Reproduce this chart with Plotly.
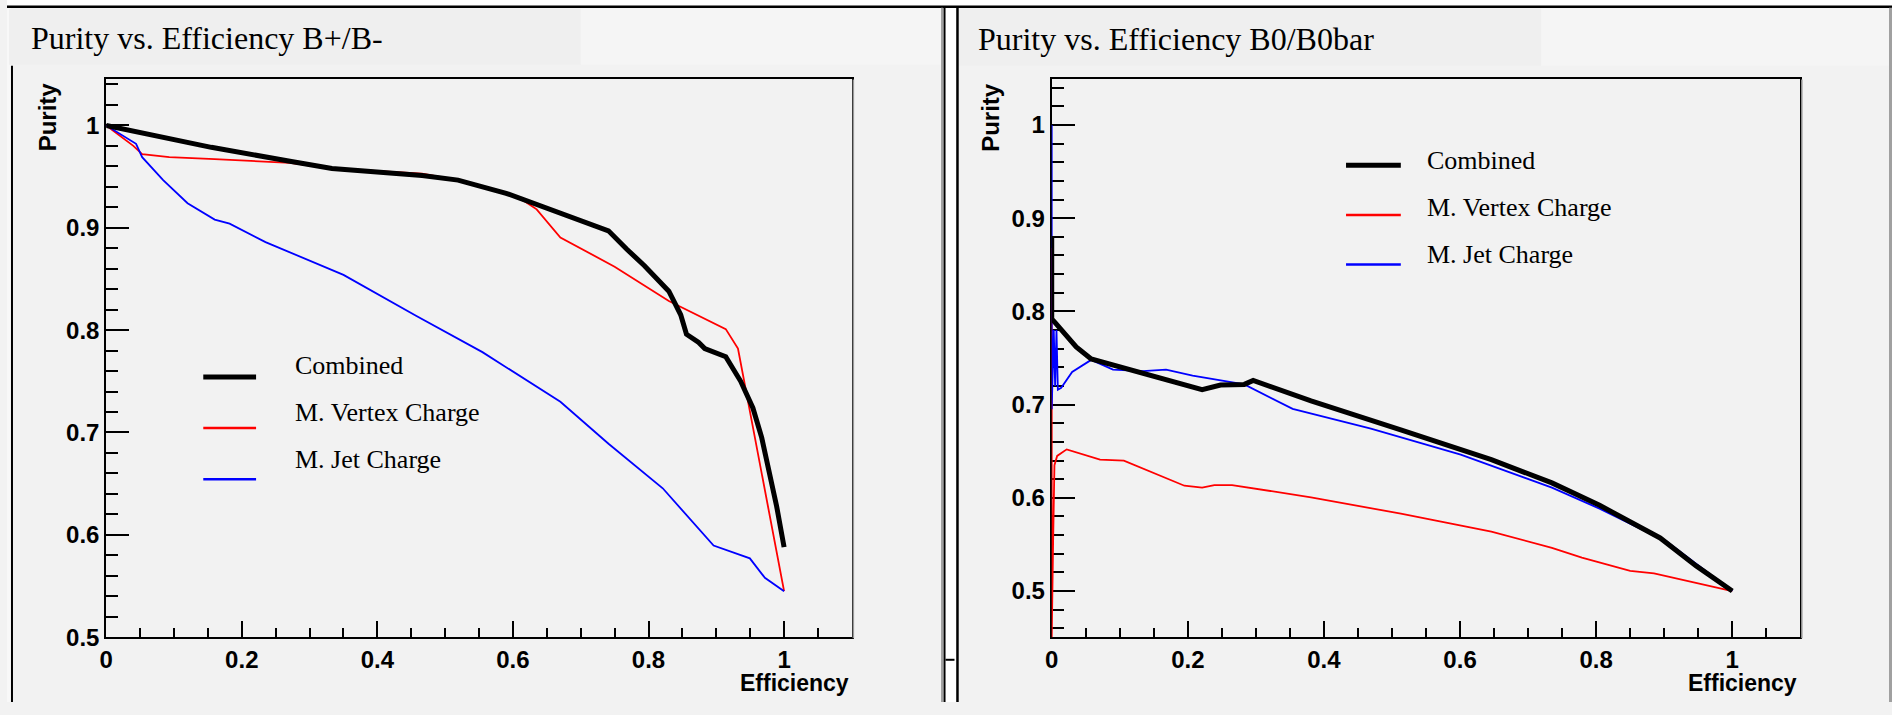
import plotly.graph_objects as go

W, H = 1892, 715

# ---------------- data: B+/B- panel ----------------
bpm_comb_eff = [0, 0.155, 0.271, 0.333, 0.466, 0.519, 0.590, 0.652, 0.706, 0.741, 0.768, 0.794,
                0.830, 0.8475, 0.856, 0.874, 0.883, 0.914, 0.936, 0.954, 0.967, 0.980, 0.989, 1.0]
bpm_comb_pur = [1.0, 0.9786, 0.965, 0.958, 0.951, 0.9466, 0.9337, 0.919, 0.905, 0.897, 0.879, 0.863,
                0.838, 0.815, 0.796, 0.788, 0.782, 0.774, 0.750, 0.724, 0.695, 0.657, 0.628, 0.588]

bpm_vtx_eff = [0, 0.040, 0.053, 0.093, 0.160, 0.226, 0.271, 0.333, 0.466, 0.519, 0.590, 0.617,
               0.635, 0.670, 0.750, 0.830, 0.914, 0.932, 1.0]
bpm_vtx_pur = [1.0, 0.980, 0.972, 0.969, 0.967, 0.965, 0.9635, 0.958, 0.953, 0.9466, 0.9337, 0.926,
               0.918, 0.8905, 0.862, 0.8285, 0.801, 0.782, 0.545]

bpm_jet_eff = [0, 0.044, 0.053, 0.084, 0.120, 0.160, 0.182, 0.235, 0.350, 0.457, 0.555, 0.670,
               0.741, 0.821, 0.896, 0.9495, 0.9717, 1.0]
bpm_jet_pur = [1.0, 0.982, 0.969, 0.9466, 0.924, 0.908, 0.904, 0.886, 0.854, 0.814, 0.7785, 0.730,
               0.689, 0.6455, 0.5895, 0.577, 0.558, 0.545]

# ---------------- data: B0/B0bar panel ----------------
b0_comb_eff = [0, 0, 0.005, 0.036, 0.058, 0.115, 0.221, 0.248, 0.283, 0.296, 0.381, 0.514,
               0.646, 0.735, 0.805, 0.894, 0.947, 1.0]
b0_comb_pur = [0.881, 0.792, 0.788, 0.762, 0.749, 0.7375, 0.716, 0.721, 0.7217, 0.726, 0.704, 0.6726,
               0.641, 0.616, 0.592, 0.557, 0.527, 0.5]

b0_vtx_eff = [0, 0, 0.002, 0.004, 0.008, 0.022, 0.071, 0.106, 0.195, 0.221, 0.239, 0.265,
              0.381, 0.513, 0.646, 0.735, 0.779, 0.850, 0.885, 1.0]
b0_vtx_pur = [0.868, 0.45, 0.55, 0.635, 0.645, 0.652, 0.641, 0.640, 0.613, 0.611, 0.6137, 0.6137,
              0.6006, 0.583, 0.5638, 0.5463, 0.5358, 0.5217, 0.519, 0.5]

b0_jet_eff = [0, 0, 0.003, 0.005, 0.007, 0.009, 0.014, 0.030, 0.058, 0.090, 0.134, 0.168, 0.207,
              0.283, 0.354, 0.469, 0.601, 0.735, 0.805, 0.903, 1.0]
b0_jet_pur = [1.0, 0.695, 0.78, 0.72, 0.78, 0.716, 0.718, 0.735, 0.748, 0.7375, 0.736, 0.7375, 0.731,
              0.7217, 0.6954, 0.6743, 0.6463, 0.611, 0.5884, 0.5533, 0.5]

series_names = ["Combined", "M. Vertex Charge", "M. Jet Charge"]
series_colors = ["#000000", "#ff0000", "#0000ff"]
series_widths = [5, 1.8, 1.8]
panel_titles = ["Purity vs. Efficiency B+/B-", "Purity vs. Efficiency B0/B0bar"]

# ---------------- figure ----------------
fig = go.Figure()

def add(x, y, k, xa, ya):
    fig.add_trace(go.Scatter(x=x, y=y, mode="lines", name=series_names[k],
                             line=dict(color=series_colors[k], width=series_widths[k]),
                             xaxis=xa, yaxis=ya, showlegend=False, hoverinfo="skip",
                             cliponaxis=True))

add(bpm_vtx_eff, bpm_vtx_pur, 1, "x", "y")
add(bpm_jet_eff, bpm_jet_pur, 2, "x", "y")
add(bpm_comb_eff, bpm_comb_pur, 0, "x", "y")
add(b0_vtx_eff, b0_vtx_pur, 1, "x2", "y2")
add(b0_jet_eff, b0_jet_pur, 2, "x2", "y2")
add(b0_comb_eff, b0_comb_pur, 0, "x2", "y2")

def px(x):
    return x / W

def py(y):
    return 1 - y / H

tickfont = dict(family="Liberation Sans, Arial, sans-serif", size=24, color="black", weight="bold")

def xaxis_cfg(x0, x1):
    return dict(domain=[px(x0), px(x1)], range=[0, 1.1], tick0=0, dtick=0.2,
                showline=True, linecolor="black", linewidth=2, mirror=True, layer="below traces",
                ticks="inside", ticklen=16, tickwidth=2, tickcolor="black",
                minor=dict(dtick=0.05, tick0=0, ticks="inside", ticklen=9, tickwidth=2, tickcolor="black"),
                showgrid=False, zeroline=False, tickfont=tickfont, fixedrange=True)

def yaxis_cfg(r, anchor):
    return dict(domain=[py(649), py(80)], range=r, tick0=0, dtick=0.1, anchor=anchor,
                showline=True, linecolor="black", linewidth=2, mirror=True, layer="below traces",
                ticks="inside", ticklen=23, tickwidth=2, tickcolor="black",
                minor=dict(dtick=0.02, tick0=0, ticks="inside", ticklen=12, tickwidth=2, tickcolor="black"),
                showgrid=False, zeroline=False, tickfont=tickfont, fixedrange=True)

xa1 = xaxis_cfg(99.6, 848); xa1["anchor"] = "y"
xa2 = xaxis_cfg(1048.6, 1800); xa2["anchor"] = "y2"

shapes = []
def rect(x0, y0, x1, y1, color):
    shapes.append(dict(type="rect", xref="paper", yref="paper", x0=px(x0), x1=px(x1),
                       y0=py(y1), y1=py(y0), fillcolor=color, line=dict(width=0), layer="below"))

def seg(x0, y0, x1, y1, color, width, layer="above"):
    shapes.append(dict(type="line", xref="paper", yref="paper", x0=px(x0), x1=px(x1),
                       y0=py(y0), y1=py(y1), line=dict(color=color, width=width), layer=layer))

# frame decorations
rect(0, 0, W, 6, "#ffffff")
rect(0, 6, 4, H, "#f8f8f8")
rect(2, 9, 576, 66, "#efefef")
rect(576, 9, 937, 66, "#f5f5f5")
rect(942, 8, 953, H, "#ffffff")
rect(955, 9, 1540, 67, "#efefef")
rect(1540, 9, 1889, 67, "#f5f5f5")
seg(0, 7, W, 7, "black", 2.5)
seg(5, 67, 5, H, "black", 2)
seg(938.5, 8, 938.5, H, "#a0a0a0", 2)
seg(941, 8, 941, H, "black", 2)
seg(954, 8, 954, H, "black", 2.5)
seg(1890.5, 8, 1890.5, H, "#a0a0a0", 3)
seg(942, 672, 951, 672, "black", 2)
# frame shadow on right edges
seg(849.5, 81, 849.5, 650, "#9a9a9a", 1.5)
seg(1801.5, 81, 1801.5, 650, "#9a9a9a", 1.5)

annotations = []
def text(x, y, s, size, family, xanchor="left", yanchor="middle", weight="normal", angle=0):
    annotations.append(dict(xref="paper", yref="paper", x=px(x), y=py(y), text=s, showarrow=False,
                            xanchor=xanchor, yanchor=yanchor, textangle=angle,
                            font=dict(family=family, size=size, color="black", weight=weight)))

serif = "Liberation Serif, Times New Roman, serif"
sans = "Liberation Sans, Arial, sans-serif"

# panel titles
text(22, 39, panel_titles[0], 32, serif)
text(973, 39.5, panel_titles[1], 32, serif)

# axis titles
for xc in (40.5, 986.5):
    text(xc, 82, "Purity", 24, sans, xanchor="center", yanchor="top", weight="bold", angle=-90)
text(847, 696, "Efficiency", 23, sans, xanchor="right", weight="bold")
text(1799, 696, "Efficiency", 23, sans, xanchor="right", weight="bold")

# legends
legends = [
    dict(lx0=197, lx1=250, ly=[384, 436, 488], tx=287, ty=[372, 420, 468]),
    dict(lx0=1344, lx1=1399, ly=[168.3, 219, 269.3], tx=1423, ty=[163, 211.3, 259]),
]
for lg in legends:
    for k in range(3):
        seg(lg["lx0"], lg["ly"][k], lg["lx1"], lg["ly"][k], series_colors[k],
            5 if k == 0 else 2.5)
        text(lg["tx"], lg["ty"][k], series_names[k], 26, serif)

fig.update_layout(
    width=W, height=H, autosize=False,
    margin=dict(l=0, r=0, t=0, b=0, pad=0),
    paper_bgcolor="#f2f2f2", plot_bgcolor="#f2f2f2",
    xaxis=xa1, xaxis2=xa2,
    yaxis=yaxis_cfg([0.5, 1.0458], "x"),
    yaxis2=yaxis_cfg([0.4505, 1.0498], "x2"),
    shapes=shapes, annotations=annotations,
    showlegend=False,
)

post = ("document.body.style.margin='0';"
        "document.body.style.overflow='hidden';"
        "document.documentElement.style.overflow='hidden';")

fig.write_html("out.html", config=dict(displayModeBar=False, responsive=False), post_script=post)
